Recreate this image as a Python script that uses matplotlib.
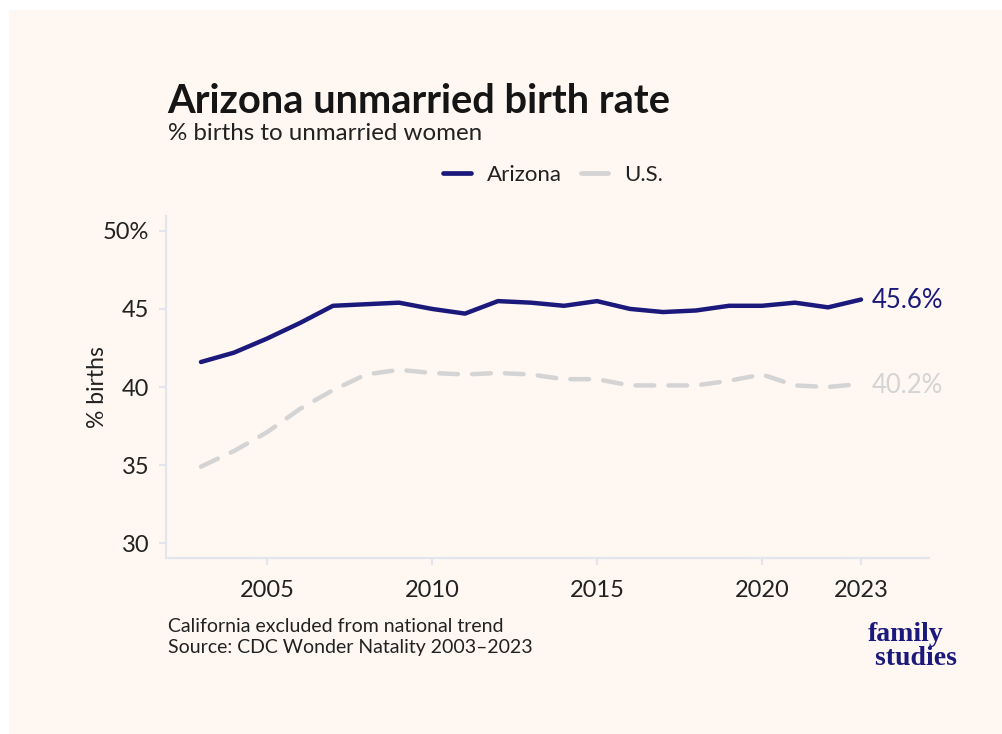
import matplotlib
matplotlib.use("Agg")
import matplotlib.pyplot as plt
from matplotlib.lines import Line2D
from matplotlib.patches import Rectangle

plt.rcParams['font.family'] = ['Lato', 'DejaVu Sans']

# data
years = list(range(2003, 2024))
arizona = [41.6, 42.2, 43.1, 44.1, 45.2, 45.3, 45.4, 45.0, 44.7, 45.5, 45.4, 45.2,
           45.5, 45.0, 44.8, 44.9, 45.2, 45.2, 45.4, 45.1, 45.6]
us = [34.9, 35.9, 37.1, 38.6, 39.8, 40.8, 41.1, 40.9, 40.8, 40.9, 40.8, 40.5,
      40.5, 40.1, 40.1, 40.1, 40.4, 40.8, 40.1, 40.0, 40.2]
x_ticks = [2005, 2010, 2015, 2020, 2023]
y_ticks = [30, 35, 40, 45, 50]
y_tick_labels = ['30', '35', '40', '45', '50%']

navy = '#1b1a7c'
light = '#d4d4d4'
bg = '#fef7f2'
axis_col = '#e2e5ee'
text_col = '#222222'

W, H = 1002, 734
fig = plt.figure(figsize=(W / 100, H / 100), dpi=100)
fig.patch.set_facecolor('white')
fig.patches.append(Rectangle((9 / W, 0), 1, 1 - 10 / H, transform=fig.transFigure,
                             facecolor=bg, edgecolor='none', zorder=-10))

def fx(px):
    return px / W

def fy(py):
    return 1 - py / H

ax = fig.add_axes([fx(166), fy(558), fx(929) - fx(166), fy(216) - fy(558)])
ax.set_facecolor('none')

ax.plot(years, arizona, color=navy, lw=3.2, solid_capstyle='round', solid_joinstyle='round')
ax.plot(years, us, color=light, lw=3.2, dashes=(4.2, 3.2), dash_capstyle='round')

ax.set_xlim(2001.94, 2025.06)
ax.set_ylim(29.05, 50.95)
ax.set_xticks(x_ticks)
ax.set_yticks(y_ticks)
ax.set_yticklabels(y_tick_labels)

for s in ['top', 'right']:
    ax.spines[s].set_visible(False)
for s in ['left', 'bottom']:
    ax.spines[s].set_color(axis_col)
    ax.spines[s].set_linewidth(1.5)
ax.tick_params(colors=axis_col, length=5, width=1.5, labelsize=17, labelcolor=text_col)
ax.tick_params(axis='x', pad=11)
ax.tick_params(axis='y', pad=7)
ax.set_ylabel('% births', fontsize=16.5, color=text_col, labelpad=-3.5)

# end labels
ax.annotate(f'{arizona[-1]:.1f}%', (years[-1], arizona[-1]), xytext=(8, -1),
            textcoords='offset points', va='center', ha='left', fontsize=18.5, color=navy)
ax.annotate(f'{us[-1]:.1f}%', (years[-1], us[-1]), xytext=(8, -1),
            textcoords='offset points', va='center', ha='left', fontsize=18.5, color=light)

# legend
handles = [Line2D([], [], color=navy, lw=3.4, solid_capstyle='round'),
           Line2D([], [], color=light, lw=3.4, solid_capstyle='round')]
fig.legend(handles, ['Arizona', 'U.S.'], loc='center', bbox_to_anchor=(fx(553), fy(175)),
           ncol=2, frameon=False, fontsize=16, handlelength=1.25, columnspacing=0.85,
           handletextpad=0.7, labelcolor=text_col)

fig.text(fx(167), fy(113), 'Arizona unmarried birth rate', fontsize=28.7, fontweight='bold',
         color='#151515', va='baseline')
fig.text(fx(168), fy(140), '% births to unmarried women', fontsize=17.4, color=text_col,
         va='baseline')

fig.text(fx(168), fy(632), 'California excluded from national trend', fontsize=14,
         color=text_col, va='baseline')
fig.text(fx(168), fy(653), 'Source: CDC Wonder Natality 2003\u20132023', fontsize=14,
         color=text_col, va='baseline')

# logo, one text block so the two lines sit tight
fig.text(fx(868), fy(665), 'family\n studies', fontsize=20, fontweight='bold', color=navy,
         family='Liberation Serif', va='baseline', ha='left', linespacing=0.95)

fig.savefig('out.png', dpi=100)
